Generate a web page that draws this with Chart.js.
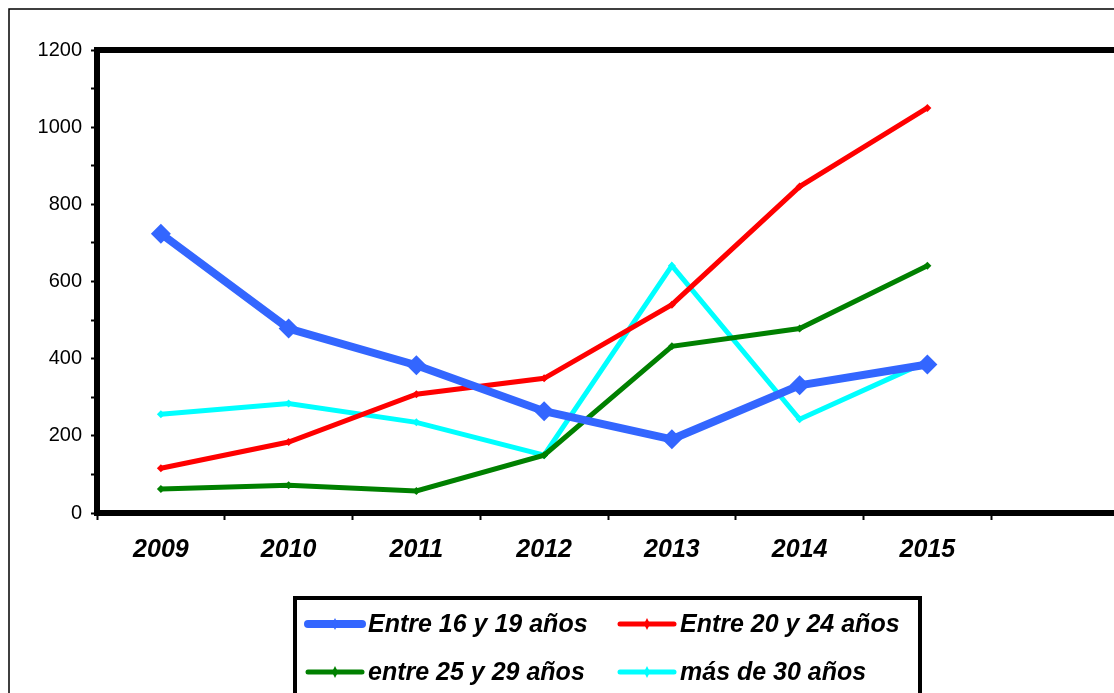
<!DOCTYPE html>
<html>
<head>
<meta charset="utf-8">
<script src="https://cdn.jsdelivr.net/npm/chart.js@4/dist/chart.umd.min.js"></script>
<style>
    html, body { margin: 0; padding: 0; background: #fff; overflow: hidden; }
    #wrap { width: 1114px; height: 693px; overflow: hidden; position: relative; }
    canvas { display: block; }
</style>
</head>
<body>
<div id="wrap"><canvas id="chart" width="1129" height="693"></canvas></div>
<script>
// years on the x axis (last slot is left empty, as in the original)
const years = ['2009', '2010', '2011', '2012', '2013', '2014', '2015', ''];

const entre16y19 = [724, 478, 383, 264, 191, 331, 385];
const entre20y24 = [116, 184, 308, 349, 540, 846, 1050];
const entre25y29 = [62, 72, 57, 150, 432, 478, 641];
const masDe30 = [256, 284, 235, 150, 641, 243, 393];

const seriesLabels = ['Entre 16 y 19 años', 'Entre 20 y 24 años', 'entre 25 y 29 años', 'más de 30 años'];
const seriesColors = ['#3366ff', '#ff0000', '#008000', '#00ffff'];

const FONT = "'Liberation Sans', Arial, sans-serif";

// outer frame, top edge of the plot and the boxed legend underneath
const frameLegend = {
    id: 'frameLegend',
    afterDraw(chart) {
        const ctx = chart.ctx;
        const area = chart.chartArea;
        ctx.save();

        ctx.strokeStyle = '#000';
        ctx.lineWidth = 1.5;
        ctx.beginPath();
        ctx.moveTo(9, chart.height + 5);
        ctx.lineTo(9, 9);
        ctx.lineTo(chart.width + 5, 9);
        ctx.stroke();

        ctx.lineWidth = 6;
        ctx.beginPath();
        ctx.moveTo(area.left - 3, area.top);
        ctx.lineTo(area.right + 3, area.top);
        ctx.stroke();

        ctx.lineWidth = 4;
        ctx.strokeRect(295, 598, 625, 120);

        const cols = [308, 620];
        const rows = [624, 672];
        ctx.font = 'italic bold 25px ' + FONT;
        ctx.textBaseline = 'middle';
        chart.data.datasets.forEach((ds, i) => {
            const x = cols[i % 2], y = rows[Math.floor(i / 2)];
            ctx.strokeStyle = ds.borderColor;
            ctx.lineWidth = i === 0 ? 8 : 5;
            ctx.lineCap = 'round';
            ctx.beginPath();
            ctx.moveTo(x, y);
            ctx.lineTo(x + 54, y);
            ctx.stroke();
            ctx.fillStyle = ds.borderColor;
            ctx.beginPath();
            ctx.moveTo(x + 27, y - 6);
            ctx.lineTo(x + 30, y);
            ctx.lineTo(x + 27, y + 6);
            ctx.lineTo(x + 24, y);
            ctx.fill();
            ctx.fillStyle = '#000';
            ctx.fillText(ds.label, x + 60, y + 1);
        });
        ctx.restore();
    }
};

const data = [entre16y19, entre20y24, entre25y29, masDe30];

new Chart(document.getElementById('chart'), {
    type: 'line',
    data: {
        labels: years,
        datasets: data.map((d, i) => ({
            label: seriesLabels[i],
            data: d,
            borderColor: seriesColors[i],
            backgroundColor: seriesColors[i],
            borderWidth: i === 0 ? 8 : 5,
            pointStyle: 'rectRot',
            pointRadius: i === 0 ? 10 : 4,
            pointBorderWidth: 0,
            tension: 0,
            fill: false
        }))
    },
    options: {
        responsive: false,
        animation: false,
        layout: { padding: { top: 50, left: 0, right: 0, bottom: 0 } },
        plugins: { legend: { display: false }, tooltip: { enabled: false } },
        scales: {
            x: {
                offset: true,
                afterFit(scale) { scale.height = 180; },
                border: { display: true, color: '#000', width: 6 },
                grid: { offset: true, drawOnChartArea: false, drawTicks: true, tickLength: 7, tickWidth: 2, color: '#000' },
                ticks: { color: '#000', padding: 15, font: { family: FONT, size: 25, weight: 'bold', style: 'italic' } }
            },
            y: {
                min: 0,
                max: 1200,
                afterFit(scale) { scale.width = 97; },
                border: { display: true, color: '#000', width: 6 },
                grid: { drawOnChartArea: false, drawTicks: true, tickLength: 6, tickWidth: 2, color: '#000' },
                ticks: {
                    stepSize: 100,
                    color: '#000',
                    padding: 9,
                    font: { family: FONT, size: 20 },
                    callback: v => (v % 200 === 0 ? String(v) : '')
                }
            }
        }
    },
    plugins: [frameLegend]
});
</script>
</body>
</html>
